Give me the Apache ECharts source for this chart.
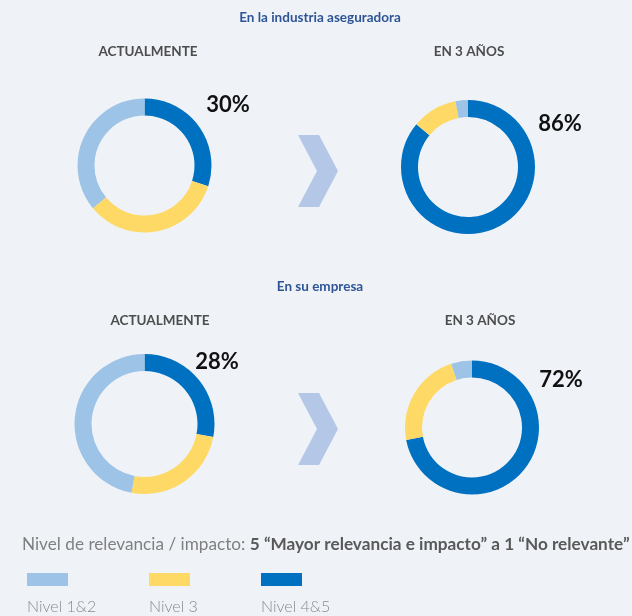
<!DOCTYPE html>
<html>
<head>
<meta charset="utf-8">
<script src="https://cdn.jsdelivr.net/npm/echarts@6/dist/echarts.min.js"></script>
<style>
  html, body { margin: 0; padding: 0; background: #eff3f8; }
  #chart { width: 632px; height: 616px; }
</style>
</head>
<body>
<div id="chart"></div>
<script>
// niveles, en orden de dibujo (desde arriba, sentido horario)
const levels = ['Nivel 4&5', 'Nivel 3', 'Nivel 1&2'];
const legendOrder = ['Nivel 1&2', 'Nivel 3', 'Nivel 4&5'];

// porcentajes por nivel [4&5, 3, 1&2]
const industriaHoy = [30, 34, 36];
const industria3 = [86, 11, 3];
const empresaHoy = [28, 25, 47];
const empresa3 = [72, 23, 5];

const colors = { 'Nivel 4&5': '#0070c0', 'Nivel 3': '#ffd966', 'Nivel 1&2': '#9dc3e6' };

const FONT = 'Lato, "Open Sans", sans-serif';

function donut(values, cx, cy, r) {
    return {
        type: 'pie',
        center: [cx, cy],
        radius: [r - 17, r],
        startAngle: 90,
        clockwise: true,
        silent: true,
        label: { show: false },
        labelLine: { show: false },
        data: levels.map((name, i) => ({
            name: name,
            value: values[i],
            itemStyle: { color: colors[name] }
        }))
    };
}

function txt(text, x, y, size, color, weight, align) {
    return {
        type: 'text',
        x: x,
        y: y,
        style: {
            text: text,
            fontSize: size,
            fontWeight: weight || 'bold',
            fontFamily: FONT,
            fill: color,
            align: align || 'center',
            verticalAlign: 'middle'
        }
    };
}

function chevron(x, y) {
    return {
        type: 'polygon',
        x: x,
        y: y,
        shape: {
            points: [[0, 0], [21, 0], [40, 36], [21, 72], [0, 72], [19, 36]]
        },
        style: { fill: '#b4c7e7' }
    };
}

// solo el recuadro de color; el texto va debajo
function legendItem(name, left) {
    return {
        data: [name],
        left: left,
        top: 573,
        padding: 0,
        icon: 'rect',
        itemWidth: 41,
        itemHeight: 13,
        selectedMode: false,
        formatter: function () { return ''; }
    };
}

const legendLeft = [27, 149, 261];

const chartDom = document.getElementById('chart');
const myChart = echarts.init(chartDom);

const option = {
    backgroundColor: '#eff3f8',
    animation: false,
    title: {
        text: 'Nivel de relevancia / impacto: {b|5 “Mayor relevancia e impacto” a 1 “No relevante”}',
        left: 22,
        top: 536,
        padding: 0,
        textStyle: {
            color: '#7f7f7f',
            fontSize: 17.2,
            fontWeight: 'normal',
            fontFamily: FONT,
            rich: {
                b: { color: '#595959', fontSize: 17.2, fontWeight: 'bold', fontFamily: FONT }
            }
        }
    },
    legend: legendOrder.map((name, i) => legendItem(name, legendLeft[i])),
    graphic: [
        txt('En la industria aseguradora', 320, 18, 13.5, '#2f5597'),
        txt('ACTUALMENTE', 148, 52, 13.5, '#4d4d4d'),
        txt('EN 3 AÑOS', 469, 52, 13.5, '#4d4d4d'),
        txt('En su empresa', 320, 287, 13.5, '#2f5597'),
        txt('ACTUALMENTE', 160, 321, 13.5, '#4d4d4d'),
        txt('EN 3 AÑOS', 480, 321, 13.5, '#4d4d4d'),
        txt(industriaHoy[0] + '%', 228, 105, 22, '#111'),
        txt(industria3[0] + '%', 560, 124, 22, '#111'),
        txt(empresaHoy[0] + '%', 217, 362, 22, '#111'),
        txt(empresa3[0] + '%', 561, 380, 22, '#111'),
        chevron(298, 135),
        chevron(298, 393)
    ].concat(legendOrder.map((name, i) =>
        txt(name, legendLeft[i], 607, 16, '#8a8a8a', 300, 'left'))),
    series: [
        donut(industriaHoy, 144.5, 165.5, 67),
        donut(industria3, 468, 167, 67),
        donut(empresaHoy, 144.5, 424, 70),
        donut(empresa3, 472, 427.5, 67)
    ]
};

myChart.setOption(option);
</script>
</body>
</html>
